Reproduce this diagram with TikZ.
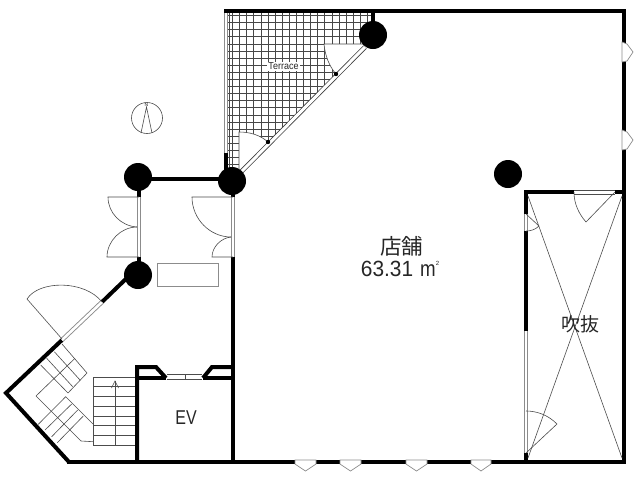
\documentclass[tikz,border=0pt]{standalone}
\usepackage{fontspec}
\setmainfont{Liberation Sans}
\newfontfamily\cjk{Noto Sans CJK JP}
\definecolor{thinc}{gray}{0.3}
\definecolor{wing}{gray}{0.55}
\tikzset{
  wall/.style={line width=4pt,black,line join=miter},
  thinl/.style={line width=0.6pt,thinc},
  gridl/.style={line width=0.75pt,black!72},
  glaze/.style={line width=0.7pt,wing,fill=white},
  col/.style={fill=black,draw=none},
  lbl/.style={inner sep=0pt,text=black!85}
}
\newcommand{\glazeline}[2]{%
  \draw[line width=4.4pt,wing] #1 -- #2;
  \draw[line width=2.6pt,white] #1 -- #2;}
\begin{document}
\begin{tikzpicture}[x=1pt,y=-1pt]
\useasboundingbox[fill=white] (0,0) rectangle (638,480);
% terrace grid
\begin{scope}
\clip (228,12) -- (373,12) -- (373,35) -- (241,172) -- (228,172) -- cycle;
\draw[gridl] (229.5,10) -- (229.5,175);
\foreach \i in {0,...,20}{
  \draw[gridl] ({232.5+7.1*\i},10) -- ({232.5+7.1*\i},175);
}
\foreach \i in {0,...,23}{
  \draw[gridl] (225,{15.5+7.1*\i}) -- (376,{15.5+7.1*\i});
}
\end{scope}
\fill[white] (365,44) -- (324,44) .. controls (325,55) and (329,66) .. (336,74) -- cycle;
\fill[white] (239,132) .. controls (250,132) and (260,135) .. (268,142) -- (242,172) -- (239,172) -- cycle;
\draw[thinl] (365,44) -- (324,44) .. controls (325,55) and (329,66) .. (336,74);
\draw[thinl] (239,170) -- (239,132) .. controls (250,132) and (260,135) .. (268,142);
% terrace glazing
\draw[line width=4.6pt,black!75] (241,172) -- (365,47);
\draw[line width=3pt,white] (241,172) -- (365,47);
\fill[black] (268,142) circle (2.2pt) (336,74) circle (2.2pt);
\glazeline{(226,12)}{(226,153)}
% walls
\draw[wall] (224,11) -- (626,11);
\draw[wall] (373,11) -- (373,30);
\draw[wall] (226,153) -- (226,172);
\draw[wall] (624,11) -- (624,463);
\draw[wall] (67,462) -- (626,462);
\draw[wall] (138,179) -- (232,179);
\draw[wall] (233,181) -- (233,197);
\draw[wall] (233,257) -- (233,462);
\draw[wall] (139,177) -- (139,197);
\draw[wall] (139,257) -- (139,275);
\draw[wall] (130,275) -- (102,302);
\draw[wall,line join=miter] (62,340) -- (6,393) -- (69,462);
\draw[wall] (526,194) -- (526,331);
\draw[wall] (526,453) -- (526,461);
\draw[wall] (524,192) -- (624,192);
% EV
\draw[wall] (137,462) -- (137,367) -- (156,367) -- (166,378);
\draw[wall] (137,378) -- (166,378);
\draw[wall] (233,367) -- (212,367) -- (203,378);
\draw[wall] (203,378) -- (233,378);
\draw[thinl] (167,374) -- (202,374) (167,379) -- (202,379) (185,374) -- (185,379);
% glazed openings
\glazeline{(139,197)}{(139,257)}
\glazeline{(233,197)}{(233,257)}
\glazeline{(102,302)}{(62,340)}
\glazeline{(526,331)}{(526,411)}
\glazeline{(526,411)}{(526,453)}
\glazeline{(526,214)}{(526,231)}
\draw[line width=4.4pt,white] (574,192) -- (615,192);
\draw[thinl] (574,190) -- (615,190) (574,194) -- (615,194);
% columns
\fill[col] (373,35) circle (14pt);
\fill[col] (232,181) circle (14pt);
\fill[col] (138,177) circle (14pt);
\fill[col] (138,275) circle (14pt);
\fill[col] (508,174) circle (14pt);
% doors
\draw[thinl] (139,197) -- (108,197) .. controls (108,213) and (121,226) .. (137,227);
\draw[thinl] (139,257) -- (107,257) .. controls (107,241) and (121,227) .. (137,227);
\draw[thinl] (233,197) -- (192,197) .. controls (192,219) and (210,237) .. (231,237);
\draw[thinl] (233,257) -- (212,257) .. controls (212,247) and (221,238) .. (231,237);
\draw[thinl] (62,339) -- (27,299) .. controls (39,280) and (85,280) .. (102,302);
\draw[thinl] (615,192) -- (586,222) .. controls (579,214) and (574,204) .. (574,192);
\draw[thinl] (526,214) -- (539,226) .. controls (535,230) and (530,231) .. (526,231);
\draw[thinl] (526,453) -- (557,424) .. controls (548,415) and (537,411) .. (526,411);
% void cross
\draw[thinl] (528,196) -- (622,458);
\draw[thinl] (622,196) -- (528,458);
% counter
\draw[thinl,wing,line width=0.8pt] (157,263) rectangle (218,286);
% stairs
\foreach \y in {377,386.7,396.4,406.1,415.9,425.6,435.3,445}{
  \draw[thinl] (93,\y) -- (135,\y);
}
\draw[thinl] (93,377) -- (93,445);
\draw[thinl] (115,445) -- (115,381);
\draw[thinl] (111.5,388) -- (115,381) -- (118.5,388);
\draw[thinl] (62,344) -- (87,373) -- (68,393);
\draw[thinl] (54.3,351.7) -- (80,380);
\draw[thinl] (46.7,358.3) -- (72.7,386.7);
\draw[thinl] (40.7,365) -- (68,393);
\draw[thinl] (36,396) -- (75,358.3);
\draw[thinl] (38.3,424.3) -- (65.7,396.7) -- (93,424);
\draw[thinl] (45,430) -- (71.7,404);
\draw[thinl] (51.7,436.7) -- (77.7,410);
\draw[thinl] (57.3,442.7) -- (83.3,416);
\draw[thinl] (36,396) -- (81,441) -- (93,441.7);
% windows right
\draw[glaze] (622,42) -- (627,44) -- (633,52) -- (627,61) -- (622,62) -- cycle;
\draw[glaze] (622,130) -- (627,132) -- (633,140) -- (627,149) -- (622,150) -- cycle;
% windows bottom
\draw[glaze] (295,460) -- (316,460) -- (316,464) -- (305.5,471) -- (295,464) -- cycle;
\draw[glaze] (340,460) -- (361,460) -- (361,464) -- (350.5,471) -- (340,464) -- cycle;
\draw[glaze] (406,460) -- (427,460) -- (427,464) -- (416.5,471) -- (406,464) -- cycle;
\draw[glaze] (471,460) -- (491,460) -- (491,464) -- (481,471) -- (471,464) -- cycle;
% compass
\draw[thinl] (147,118) circle (15.5pt);
\draw[thinl] (141,133) -- (146.5,107) -- (152,133);
\node[lbl,font=\fontsize{5}{5}\selectfont] (north) at (146.5,104.5) {N};
% labels
\node[lbl,fill=white,inner xsep=1pt,inner ysep=1.5pt,font=\fontsize{10}{11}\selectfont] (terr) at (283.5,66.5) {\scalebox{0.9}[1]{Terrace}};
\node[lbl,font=\cjk\fontsize{21.5}{22}\selectfont] (shop) at (401.5,246) {店舗};
\node[lbl,font=\fontsize{22}{22}\selectfont] (area) at (400,268.5) {\scalebox{0.95}[1]{63.31\,\,}\scalebox{0.85}[1]{m}\raisebox{11pt}{\fontsize{6}{6}\selectfont 2}};
\node[lbl,font=\cjk\fontsize{19}{20}\selectfont] (void) at (580,324) {吹抜};
\node[lbl,font=\fontsize{20}{20}\selectfont] (ev) at (186,418) {\scalebox{0.8}[1]{EV}};
\end{tikzpicture}
\end{document}
